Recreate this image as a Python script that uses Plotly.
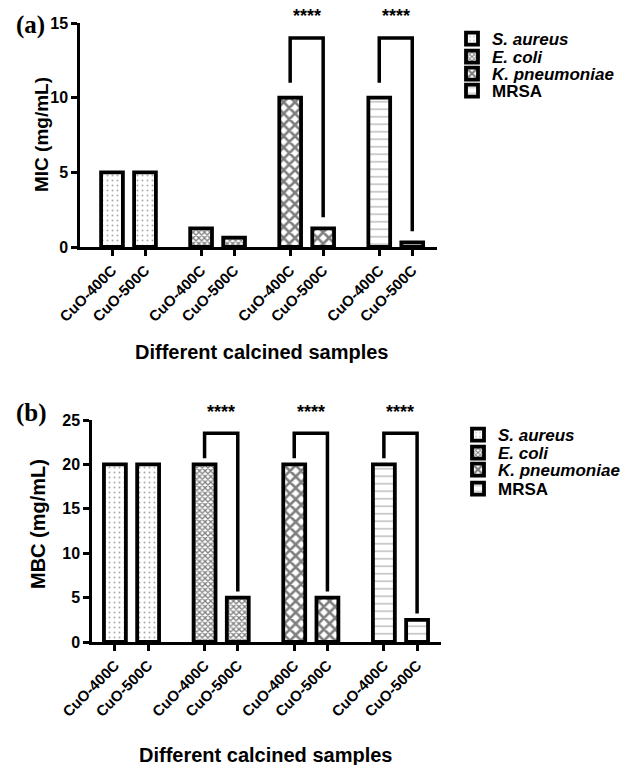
import plotly.graph_objects as go

W, H = 644, 765

# ---------------- data ----------------
samples = ["CuO-400C", "CuO-500C"]
organisms = ["S. aureus", "E. coli", "K. pneumoniae", "MRSA"]
legend_names = ["<b><i>S. aureus</i></b>", "<b><i>E. coli</i></b>",
                "<b><i>K. pneumoniae</i></b>", "<b>MRSA</b>"]
mic_s_aureus = [5, 5]
mic_e_coli = [1.25, 0.625]
mic_k_pneumoniae = [10, 1.25]
mic_mrsa = [10, 0.3125]
mbc_s_aureus = [20, 20]
mbc_e_coli = [20, 5]
mbc_k_pneumoniae = [20, 5]
mbc_mrsa = [20, 2.5]
mic_sig = [False, False, True, True]
mbc_sig = [False, True, True, True]
sig_label = "****"
mic_ticks = [0, 5, 10, 15]
mbc_ticks = [0, 5, 10, 15, 20, 25]

mic_values = [mic_s_aureus, mic_e_coli, mic_k_pneumoniae, mic_mrsa]
mbc_values = [mbc_s_aureus, mbc_e_coli, mbc_k_pneumoniae, mbc_mrsa]

# ---------------- styles ----------------
FONT = "Liberation Sans, Arial, sans-serif"
SERIF = "Liberation Serif, Times New Roman, serif"
GAP = 2.7
BAR_W = 0.66
patterns = [
    dict(shape=".", size=5, solidity=0.12, fgcolor="#555555", bgcolor="white"),
    dict(shape="x", size=4, solidity=0.55, fgcolor="black", bgcolor="white"),
    dict(shape="x", size=8, solidity=0.55, fgcolor="black", bgcolor="white"),
    dict(shape="-", size=7.5, solidity=0.14, fgcolor="#444444", bgcolor="white"),
]


def px_x(p):
    return p / W


def px_y(p):
    return 1 - p / H


fig = go.Figure()

panels = [
    dict(values=mic_values, sig=mic_sig, xa="x", ya="y", legends=["legend", "legend2", "legend3", "legend4"],
         top=14.0, padl=1.0, padr=0.75, shift=22),
    dict(values=mbc_values, sig=mbc_sig, xa="x2", ya="y2", legends=["legend5", "legend6", "legend7", "legend8"],
         top=23.5, padl=0.7, padr=0.7, shift=21),
]

tickpos = []
for g in range(len(organisms)):
    for i in range(len(samples)):
        tickpos.append(g * GAP + i)
ticktext = samples * len(organisms)

annotations = []
for p in panels:
    for g, (vals, name) in enumerate(zip(p["values"], legend_names)):
        xs = [g * GAP + i for i in range(len(samples))]
        fig.add_trace(go.Bar(
            x=xs, y=vals, width=BAR_W, name=name,
            xaxis=p["xa"], yaxis=p["ya"], legend=p["legends"][g],
            marker=dict(color="white", pattern=patterns[g],
                        line=dict(color="black", width=3.8)),
            showlegend=True,
        ))
        if p["sig"][g]:
            fig.add_trace(go.Scatter(
                x=[xs[0], xs[0], xs[1], xs[1]],
                y=[vals[0] + p["padl"], p["top"], p["top"], vals[1] + p["padr"]],
                mode="lines", line=dict(color="black", width=3.5),
                xaxis=p["xa"], yaxis=p["ya"], showlegend=False, cliponaxis=False,
                hoverinfo="skip",
            ))
            annotations.append(dict(
                x=(xs[0] + xs[1]) / 2, y=p["top"], xref=p["xa"], yref=p["ya"],
                text="<b>" + sig_label + "</b>", showarrow=False, yshift=p["shift"],
                xanchor="center", yanchor="middle",
                font=dict(family=FONT, size=18, color="black"),
            ))

axis_common = dict(showline=True, linecolor="black", linewidth=2.5, ticks="outside",
                   ticklen=6, tickwidth=2.5, tickcolor="black", showgrid=False,
                   zeroline=False, automargin=False)

fig.update_layout(
    width=W, height=H, margin=dict(l=0, r=0, t=0, b=0, autoexpand=False),
    paper_bgcolor="white", plot_bgcolor="white",
    barmode="overlay",
    xaxis=dict(domain=[px_x(80), px_x(437)], range=[-0.97, 9.85], anchor="y",
               tickvals=tickpos, ticktext=ticktext, tickangle=-45,
               tickfont=dict(family=FONT, size=15, color="black", weight="bold"), **axis_common),
    yaxis=dict(domain=[px_y(247), px_y(23)], range=[0, 15], anchor="x",
               tickvals=mic_ticks, tickfont=dict(family=FONT, size=16, color="black", weight="bold"),
               **axis_common),
    xaxis2=dict(domain=[px_x(92), px_x(441)], range=[-0.69, 9.82], anchor="y2",
                tickvals=tickpos, ticktext=ticktext, tickangle=-45,
                tickfont=dict(family=FONT, size=15, color="black", weight="bold"), **axis_common),
    yaxis2=dict(domain=[px_y(642), px_y(420)], range=[0, 25], anchor="x2",
                tickvals=mbc_ticks, tickfont=dict(family=FONT, size=16, color="black", weight="bold"),
                **axis_common),
)

legend_rows_top = [39, 57, 74, 91]
legend_rows_bot = [435, 453, 470, 489]
for k, ypx in enumerate(legend_rows_top + legend_rows_bot):
    key = "legend" if k == 0 else f"legend{k + 1}"
    left = 452 if k < 4 else 458
    fig.update_layout({key: dict(
        x=px_x(left), y=px_y(ypx), xanchor="left", yanchor="middle",
        bgcolor="rgba(0,0,0,0)", borderwidth=0,
        font=dict(family=FONT, size=17, color="black"),
        itemclick=False, itemdoubleclick=False,
    )})


def paper_text(xp, yp, text, size, family=FONT, angle=0):
    return dict(x=px_x(xp), y=px_y(yp), xref="paper", yref="paper", text=text,
                textangle=angle, showarrow=False, xanchor="center", yanchor="middle",
                font=dict(family=family, size=size, color="black"))


annotations += [
    paper_text(41, 135, "<b>MIC (mg/mL)</b>", 19, angle=-90),
    paper_text(38, 524, "<b>MBC (mg/mL)</b>", 20, angle=-90),
    paper_text(261, 352, "<b>Different calcined samples</b>", 20),
    paper_text(265, 755, "<b>Different calcined samples</b>", 20),
    paper_text(30, 25, "<b>(a)</b>", 25, family=SERIF),
    paper_text(31, 413, "<b>(b)</b>", 25, family=SERIF),
]
fig.update_layout(annotations=annotations)

fig.write_html("out.html")
